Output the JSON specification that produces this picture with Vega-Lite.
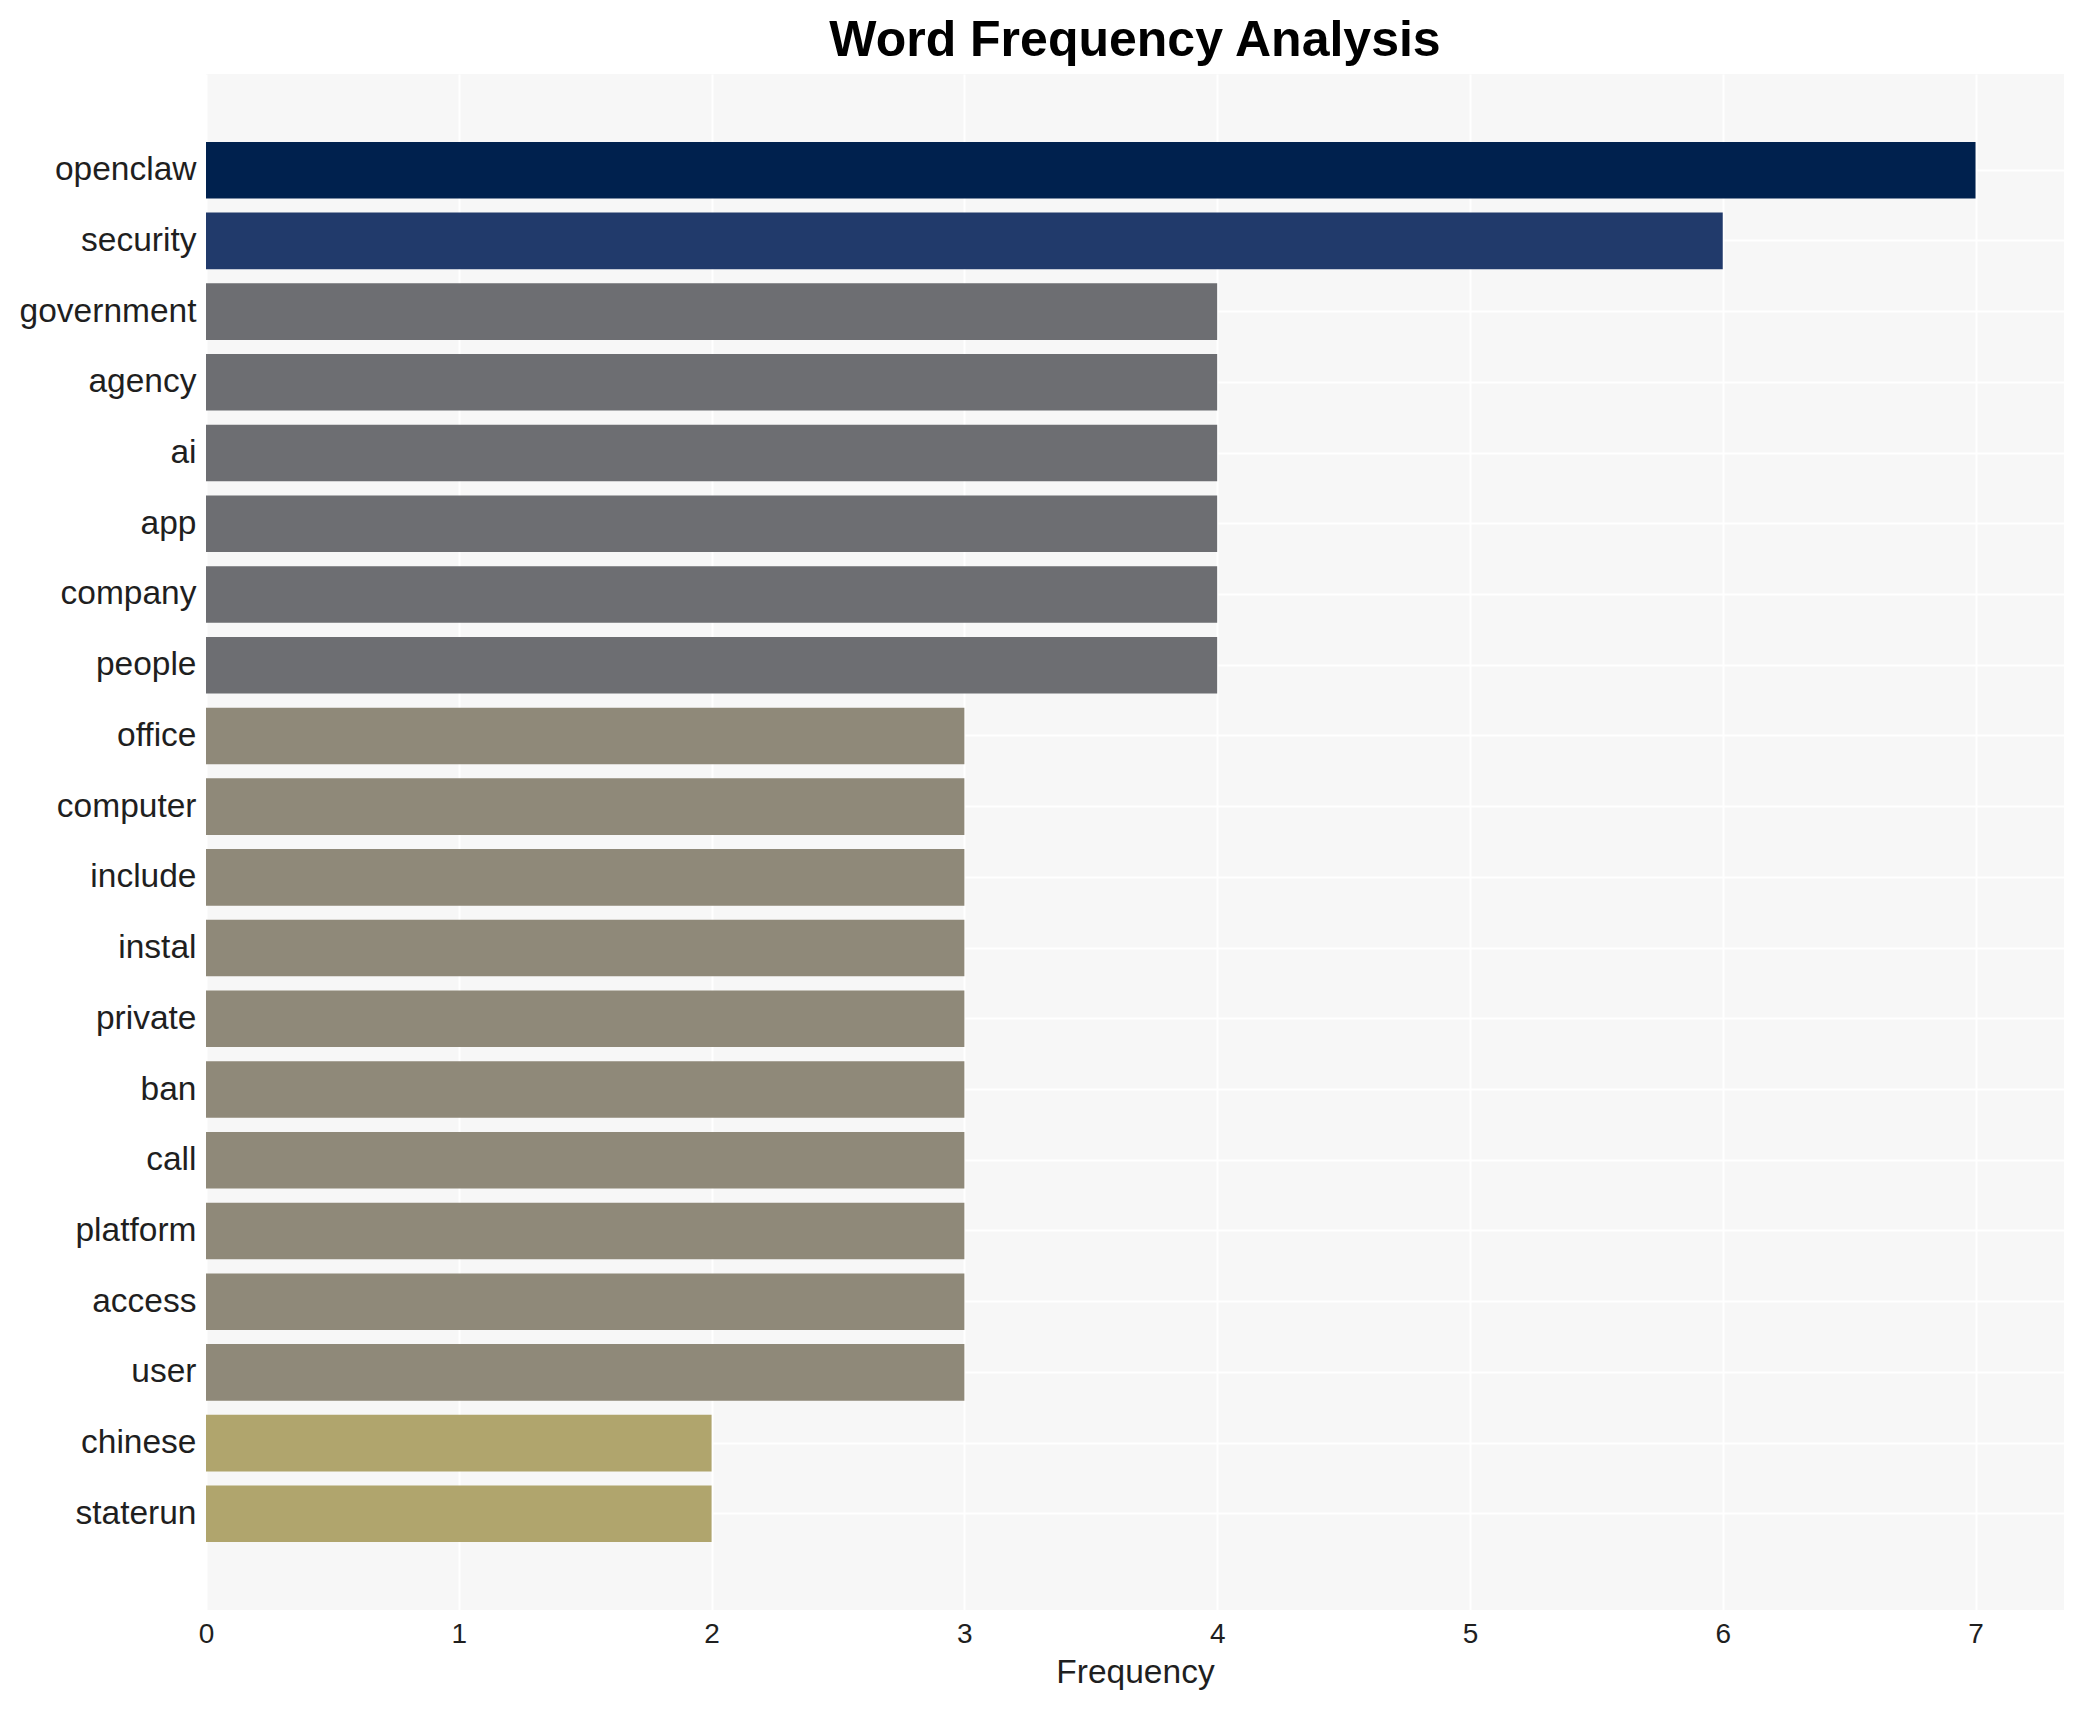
{
  "$schema": "https://vega.github.io/schema/vega-lite/v6.json",
  "autosize": {"type": "none"},
  "padding": {"left": 206, "top": 74, "right": 21, "bottom": 100},
  "width": 1858,
  "height": 1536,
  "background": "white",
  "title": {
    "text": "Word Frequency Analysis",
    "font": "Liberation Sans",
    "fontSize": 50,
    "fontWeight": "bold",
    "color": "black",
    "anchor": "middle",
    "baseline": "alphabetic",
    "offset": 18,
    "dy": 50
  },
  "data": {
    "values": [
      {"word": "openclaw", "Frequency": 7},
      {"word": "security", "Frequency": 6},
      {"word": "government", "Frequency": 4},
      {"word": "agency", "Frequency": 4},
      {"word": "ai", "Frequency": 4},
      {"word": "app", "Frequency": 4},
      {"word": "company", "Frequency": 4},
      {"word": "people", "Frequency": 4},
      {"word": "office", "Frequency": 3},
      {"word": "computer", "Frequency": 3},
      {"word": "include", "Frequency": 3},
      {"word": "instal", "Frequency": 3},
      {"word": "private", "Frequency": 3},
      {"word": "ban", "Frequency": 3},
      {"word": "call", "Frequency": 3},
      {"word": "platform", "Frequency": 3},
      {"word": "access", "Frequency": 3},
      {"word": "user", "Frequency": 3},
      {"word": "chinese", "Frequency": 2},
      {"word": "staterun", "Frequency": 2}
    ]
  },
  "mark": {"type": "bar"},
  "encoding": {
    "y": {
      "field": "word",
      "type": "nominal",
      "sort": null,
      "scale": {"paddingInner": 0.2, "paddingOuter": 0.96},
      "axis": {
        "title": null,
        "domain": false,
        "ticks": false,
        "labelFont": "Liberation Sans",
        "labelFontSize": 33.5,
        "labelColor": "#1f1f1f",
        "labelPadding": 10,
        "grid": true,
        "gridColor": "white",
        "gridWidth": 2
      }
    },
    "x": {
      "field": "Frequency",
      "type": "quantitative",
      "scale": {"domain": [0, 7.35], "nice": false, "zero": true},
      "axis": {
        "title": "Frequency",
        "titleFont": "Liberation Sans",
        "titleFontSize": 33.5,
        "titleFontWeight": "normal",
        "titleColor": "#1f1f1f",
        "titlePadding": 8,
        "values": [0, 1, 2, 3, 4, 5, 6, 7],
        "format": "d",
        "domain": false,
        "ticks": false,
        "labelFlush": false,
        "labelFont": "Liberation Sans",
        "labelFontSize": 28,
        "labelColor": "#1f1f1f",
        "labelPadding": 10,
        "grid": true,
        "gridColor": "white",
        "gridWidth": 2
      }
    },
    "color": {
      "field": "Frequency",
      "type": "ordinal",
      "scale": {
        "domain": [2, 3, 4, 6, 7],
        "range": ["#B0A56D", "#8F8979", "#6D6E72", "#213A6B", "#00214E"]
      },
      "legend": null
    }
  },
  "config": {
    "view": {"fill": "#F7F7F7", "stroke": null}
  }
}
